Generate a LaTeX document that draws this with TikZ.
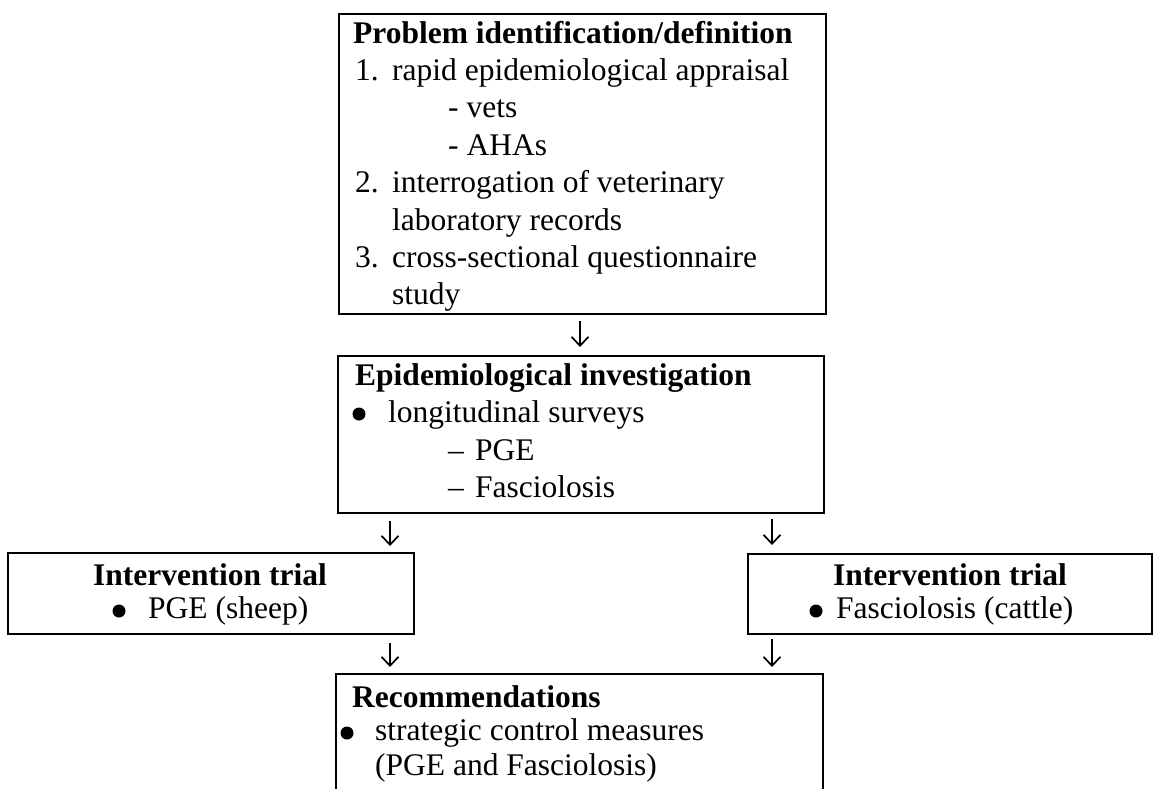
\documentclass[tikz,border=0pt]{standalone}
\usepackage{fontspec}
\setmainfont{Liberation Serif}
\usetikzlibrary{arrows.meta}
\tikzset{
  box/.style={draw, line width=2.2pt, inner sep=0pt, anchor=north west},
  txt/.style={inner sep=0pt, anchor=base west, font=\fontsize{31.5}{37.4}\selectfont},
  bld/.style={txt, font=\fontsize{31.5}{37.4}\selectfont\bfseries},
  ctr/.style={bld, anchor=base},
  bul/.style={circle, fill, inner sep=0pt, minimum size=13pt},
  arr/.style={line width=1.7pt, -{Straight Barb[length=9pt,width=17pt,line width=1.7pt]}},
}
\begin{document}
\begin{tikzpicture}[x=1pt,y=-1pt]
\useasboundingbox (0,0) rectangle (1154,788);
\clip (0,0) rectangle (1154,788);
% boxes
\node[box, minimum width=487pt, minimum height=300pt] (top) at (338,13) {};
\node[box, minimum width=486pt, minimum height=157pt] (mid) at (337,355) {};
\node[box, minimum width=406pt, minimum height=81pt] (left) at (7,552) {};
\node[box, minimum width=404pt, minimum height=80pt] (right) at (747,553) {};
\node[box, minimum width=487pt, minimum height=140pt] (rec) at (335,673) {};
% top box text
\node[bld] (t0) at (353,43) {Problem identification/definition};
\node[txt] (t1n) at (355,80.4) {1.};
\node[txt] (t1) at (392,80.4) {rapid epidemiological appraisal};
\node[txt] (t1a) at (448,117.8) {- vets};
\node[txt] (t1b) at (448,155.2) {- AHAs};
\node[txt] (t2n) at (355,192.6) {2.};
\node[txt] (t2) at (392,192.6) {interrogation of veterinary};
\node[txt] (t2b) at (392,230) {laboratory records};
\node[txt] (t3n) at (355,267.4) {3.};
\node[txt] (t3) at (392,267.4) {cross-sectional questionnaire};
\node[txt] (t3b) at (392,304.8) {study};
% middle box text
\node[bld] (m0) at (355,385) {Epidemiological investigation};
\node[bul] (m1b) at (359,414) {};
\node[txt] (m1) at (388,422) {longitudinal surveys};
\node[txt] (m2d) at (448,460) {\textendash};
\node[txt] (m2) at (475,460) {PGE};
\node[txt] (m3d) at (448,497.5) {\textendash};
\node[txt] (m3) at (475,497.5) {Fasciolosis};
% left box text
\node[ctr] (l0) at (210,585) {Intervention trial};
\node[bul] (l1b) at (119,611) {};
\node[txt] (l1) at (148,618) {PGE (sheep)};
% right box text
\node[ctr] (r0) at (950,585) {Intervention trial};
\node[bul] (r1b) at (816,611) {};
\node[txt] (r1) at (836,618) {Fasciolosis (cattle)};
% recommendations text
\node[bld] (c0) at (352,707) {Recommendations};
\node[bul] (c1b) at (347,733) {};
\node[txt] (c1) at (375,740) {strategic control measures};
\node[txt] (c2) at (375,775) {(PGE and Fasciolosis)};
% arrow columns
\coordinate (xa) at (580,0);
\coordinate (xl) at (390,0);
\coordinate (xr) at (772,0);
% arrows
\draw[arr, shorten <=6pt, shorten >=8pt] (top.south -| xa) -- (mid.north -| xa);
\draw[arr, shorten <=7pt, shorten >=6pt] (mid.south -| xl) -- (left.north -| xl);
\draw[arr, shorten <=5pt, shorten >=8pt] (mid.south -| xr) -- (right.north -| xr);
\draw[arr, shorten <=8pt, shorten >=6pt] (left.south -| xl) -- (rec.north -| xl);
\draw[arr, shorten <=4pt, shorten >=6pt] (right.south -| xr) -- (rec.north -| xr);
\end{tikzpicture}
\end{document}
